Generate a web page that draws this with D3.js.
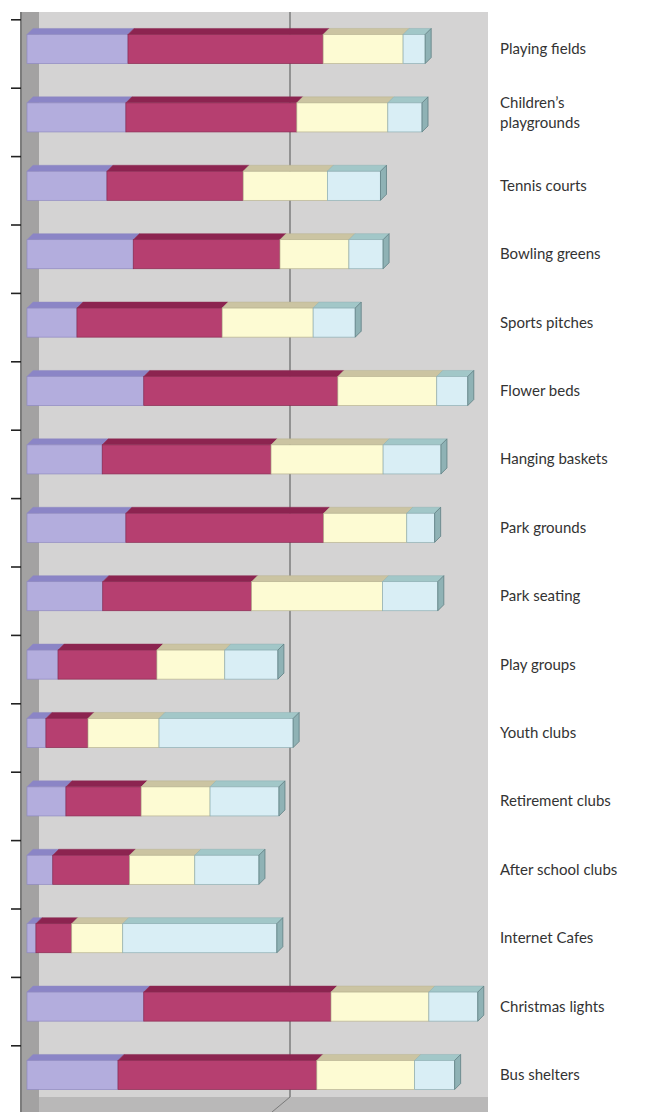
<!DOCTYPE html>
<html>
<head>
<meta charset="utf-8">
<script src="https://cdn.jsdelivr.net/npm/d3@7"></script>
<style>
  html, body { margin: 0; padding: 0; background: #ffffff; }
  svg { display: block; }
</style>
</head>
<body>
<div id="chart"></div>
<script>
// ---- Data ----
const categories = [
  "Playing fields", "Children’s playgrounds", "Tennis courts", "Bowling greens",
  "Sports pitches", "Flower beds", "Hanging baskets", "Park grounds",
  "Park seating", "Play groups", "Youth clubs", "Retirement clubs",
  "After school clubs", "Internet Cafes", "Christmas lights", "Bus shelters"
];
const seriesKeys = ["s1", "s2", "s3", "s4"];
const series1 = [19.2, 18.8, 15.2, 20.2, 9.5, 22.2, 14.3, 18.8, 14.4, 5.9, 3.6, 7.4, 4.9, 1.7, 22.2, 17.3];
const series2 = [37.1, 32.5, 25.9, 27.9, 27.6, 36.9, 32.1, 37.6, 28.3, 18.8, 8.0, 14.3, 14.6, 6.8, 35.6, 37.8];
const series3 = [15.2, 17.3, 16.0, 13.1, 17.3, 18.8, 21.3, 15.8, 24.9, 12.9, 13.5, 13.1, 12.4, 9.7, 18.6, 18.6];
const series4 = [4.2, 6.5, 10.1, 6.5, 8.0, 5.9, 11.0, 5.3, 10.5, 10.1, 25.5, 13.1, 12.2, 29.3, 9.3, 7.6];
const gridTicks = [50];

// ---- Layout / style ----
const W = 645, H = 1112;
const plot = { left: 20, right: 488, top: 12, bottom: 1112, floor: 1097 };
const depth = { dx: 6, dy: 6 };
const frontFill = ["#b3addd", "#b63f70", "#fdfbd3", "#d9eef5"];
const topFill   = ["#8b85c6", "#8c2450", "#cbc4a2", "#a2c7c8"];
const edgeCol   = ["#8f89c0", "#8a2a52", "#b9b492", "#8fb0b4"];

const table = categories.map((c, i) => ({
  cat: c, s1: series1[i], s2: series2[i], s3: series3[i], s4: series4[i]
}));
const stacked = d3.stack().keys(seriesKeys)(table);

const x = d3.scaleLinear().domain([0, 50]).range([27, 290]);
const y = d3.scaleBand().domain(categories)
  .range([14.8, 14.8 + 16 * 68.4])
  .paddingInner(0.575).paddingOuter(0.2875);

const svg = d3.select("#chart").append("svg")
  .attr("width", W).attr("height", H);

// plot background
svg.append("rect")
  .attr("x", plot.left).attr("y", plot.top)
  .attr("width", plot.right - plot.left).attr("height", plot.bottom - plot.top)
  .attr("fill", "#d4d3d3");

// floor
svg.append("rect")
  .attr("x", plot.left).attr("y", plot.floor)
  .attr("width", plot.right - plot.left).attr("height", plot.bottom - plot.floor)
  .attr("fill", "#b9b8b8");

// grid line(s) on back wall
gridTicks.forEach(t => {
  svg.append("line")
    .attr("x1", x(t)).attr("x2", x(t))
    .attr("y1", plot.top).attr("y2", plot.floor)
    .attr("stroke", "#6f6f6f").attr("stroke-width", 1.3);
  svg.append("line")
    .attr("x1", x(t)).attr("x2", x(t) - 18)
    .attr("y1", plot.floor).attr("y2", plot.bottom)
    .attr("stroke", "#7a7a7a").attr("stroke-width", 1);
});

// side wall (axis)
svg.append("rect")
  .attr("x", 22).attr("y", plot.top)
  .attr("width", 17).attr("height", plot.bottom - plot.top)
  .attr("fill", "#a3a2a2");
svg.append("line")
  .attr("x1", 21).attr("x2", 21).attr("y1", plot.top).attr("y2", plot.bottom)
  .attr("stroke", "#7c7c7c").attr("stroke-width", 2);

// ticks on axis (band boundaries)
const tickYs = categories.map(c => y(c) - (y.step() - y.bandwidth()) / 2 + 5);
tickYs.push(tickYs[tickYs.length - 1] + y.step());
svg.append("g").selectAll("line").data(tickYs).join("line")
  .attr("x1", 11).attr("x2", 21)
  .attr("y1", d => d).attr("y2", d => d)
  .attr("stroke", "#222").attr("stroke-width", 1.6);

// bars (3D stacked)
const bh = y.bandwidth();
const gBars = svg.append("g");
categories.forEach((c, i) => {
  const g = gBars.append("g");
  const y0 = y(c);
  stacked.forEach((layer, k) => {
    const x0 = x(layer[i][0]), x1 = x(layer[i][1]);
    // top face
    g.append("path")
      .attr("d", `M${x0},${y0}L${x1},${y0}L${x1 + depth.dx},${y0 - depth.dy}L${x0 + depth.dx},${y0 - depth.dy}Z`)
      .attr("fill", topFill[k]).attr("stroke", edgeCol[k]).attr("stroke-width", 0.5);
    // front face
    g.append("rect")
      .attr("x", x0).attr("y", y0)
      .attr("width", Math.max(0, x1 - x0)).attr("height", bh)
      .attr("fill", frontFill[k]).attr("stroke", edgeCol[k]).attr("stroke-width", 0.7);
  });
  // right side face of last segment
  const last = stacked[stacked.length - 1][i][1];
  const xe = x(last);
  g.append("path")
    .attr("d", `M${xe},${y0}L${xe + depth.dx},${y0 - depth.dy}L${xe + depth.dx},${y0 + bh - depth.dy}L${xe},${y0 + bh}Z`)
    .attr("fill", "#8fb2b5").attr("stroke", "#5f7f83").attr("stroke-width", 0.8);
});

// labels
const labelX = 500;
const labels = svg.append("g")
  .attr("font-family", "Lato, 'Open Sans', sans-serif")
  .attr("font-size", 15).attr("fill", "#333");
categories.forEach(c => {
  const cy = y(c) + bh / 2;
  const t = labels.append("text").attr("x", labelX).attr("y", cy + 5).text(c);
  const w = t.node().getComputedTextLength();
  if (w > W - labelX - 2) {
    const words = c.split(" ");
    const l1 = words.slice(0, Math.ceil(words.length / 2)).join(" ");
    const l2 = words.slice(Math.ceil(words.length / 2)).join(" ");
    t.text(null);
    t.append("tspan").attr("x", labelX).attr("y", cy - 9.5).text(l1);
    t.append("tspan").attr("x", labelX).attr("y", cy + 10.5).text(l2);
  }
});
</script>
</body>
</html>
